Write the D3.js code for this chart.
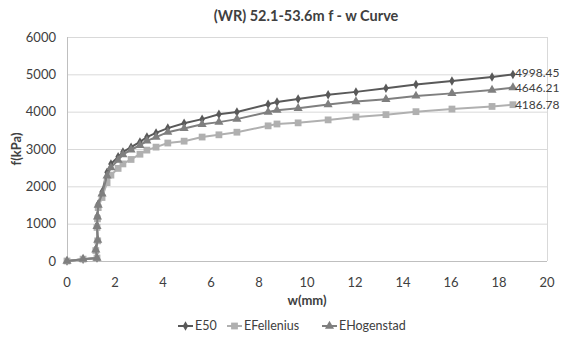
<!DOCTYPE html>
<html>
<head>
<meta charset="utf-8">
<script src="https://cdn.jsdelivr.net/npm/d3@7"></script>
<style>
  body { margin: 0; background: #fff; }
  text { font-family: Lato, "Open Sans", sans-serif; }
</style>
</head>
<body>
<svg id="chart"></svg>
<script>
var width = 563, height = 341;

// displacement w (mm), shared by the three series
var wValues = [0, 0.67, 1.25, 1.2, 1.28, 1.25, 1.27, 1.3, 1.46, 1.67, 1.83, 2.13, 2.33, 2.67, 3.04, 3.33,
  3.71, 4.2, 4.88, 5.63, 6.33, 7.08, 8.38, 8.75, 9.63, 10.88, 12.04, 13.29, 14.54, 16.04, 17.71, 18.58];

var e50 = [0, 50, 80, 320, 560, 960, 1210, 1530, 1850, 2380, 2600, 2790, 2920, 3050, 3190, 3320,
  3430, 3560, 3690, 3800, 3930, 3990, 4200, 4260, 4340, 4450, 4530, 4630, 4730, 4820, 4930, 4998.45];
var eFellenius = [0, 50, 80, 280, 540, 900, 1130, 1430, 1700, 2100, 2300, 2480, 2600, 2720, 2860, 2970,
  3050, 3160, 3210, 3320, 3380, 3450, 3620, 3670, 3700, 3780, 3860, 3920, 4000, 4070, 4140, 4186.78];
var eHogenstad = [0, 50, 80, 300, 560, 930, 1180, 1500, 1800, 2280, 2500, 2700, 2850, 2980, 3100, 3220,
  3320, 3450, 3550, 3660, 3720, 3800, 3990, 4040, 4090, 4190, 4270, 4330, 4420, 4490, 4580, 4646.21];

var seriesNames = ["E50", "EFellenius", "EHogenstad"];
var seriesColors = ["#595959", "#b0b0b0", "#7f7f7f"];
var seriesShapes = [d3.symbolDiamond, d3.symbolSquare, d3.symbolTriangle];
var seriesSizes = [26, 46, 36];

var xTicks = [0, 2, 4, 6, 8, 10, 12, 14, 16, 18, 20];
var yTicks = [0, 1000, 2000, 3000, 4000, 5000, 6000];

var series = [e50, eFellenius, eHogenstad].map(function(vals, i) {
  return {
    name: seriesNames[i],
    color: seriesColors[i],
    shape: seriesShapes[i],
    size: seriesSizes[i],
    points: vals.map(function(f, j) { return [wValues[j], f]; })
  };
});

var margin = {top: 37, right: 16, bottom: 80, left: 67};

var svg = d3.select('#chart')
  .attr('width', width)
  .attr('height', height);

var x = d3.scaleLinear()
  .domain([0, 20])
  .range([margin.left, width - margin.right]);

var y = d3.scaleLinear()
  .domain([0, 6000])
  .range([height - margin.bottom, margin.top]);

// gridlines
svg.append('g')
  .selectAll('line')
  .data(yTicks)
  .enter().append('line')
  .attr('x1', x(0)).attr('x2', x(20))
  .attr('y1', function(d) { return y(d) + 0.5; })
  .attr('y2', function(d) { return y(d) + 0.5; })
  .attr('stroke', function(d) { return d == 0 ? '#bfbfbf' : '#d9d9d9'; })
  .attr('stroke-width', 1);

// plot border left/right
svg.append('line')
  .attr('x1', x(0) + 0.5).attr('x2', x(0) + 0.5)
  .attr('y1', y(6000)).attr('y2', y(0))
  .attr('stroke', '#bfbfbf');
svg.append('line')
  .attr('x1', x(20) + 0.5).attr('x2', x(20) + 0.5)
  .attr('y1', y(6000)).attr('y2', y(0))
  .attr('stroke', '#d9d9d9');

// tick labels
svg.append('g')
  .selectAll('text')
  .data(yTicks)
  .enter().append('text')
  .attr('x', margin.left - 11)
  .attr('y', function(d) { return y(d); })
  .attr('dy', '0.35em')
  .attr('text-anchor', 'end')
  .attr('font-size', 13)
  .attr('fill', '#404040')
  .text(function(d) { return d; });

svg.append('g')
  .selectAll('text')
  .data(xTicks)
  .enter().append('text')
  .attr('x', function(d) { return x(d); })
  .attr('y', y(0) + 21)
  .attr('dy', '0.35em')
  .attr('text-anchor', 'middle')
  .attr('font-size', 13)
  .attr('fill', '#404040')
  .text(function(d) { return d; });

// titles
svg.append('text')
  .attr('x', 306).attr('y', 16)
  .attr('dy', '0.35em')
  .attr('text-anchor', 'middle')
  .attr('font-size', 14.5)
  .attr('font-weight', 'bold')
  .attr('fill', '#404040')
  .text('(WR) 52.1-53.6m f - w Curve');

svg.append('text')
  .attr('x', 307).attr('y', 300)
  .attr('dy', '0.35em')
  .attr('text-anchor', 'middle')
  .attr('font-size', 13)
  .attr('font-weight', 'bold')
  .attr('fill', '#404040')
  .text('w(mm)');

svg.append('text')
  .attr('transform', 'translate(16,149) rotate(-90)')
  .attr('dy', '0.35em')
  .attr('text-anchor', 'middle')
  .attr('font-size', 13)
  .attr('font-weight', 'bold')
  .attr('fill', '#404040')
  .text('f(kPa)');

var line = d3.line()
  .x(function(d) { return x(d[0]); })
  .y(function(d) { return y(d[1]); });

var groups = svg.selectAll('.series')
  .data(series)
  .enter().append('g')
  .attr('class', 'series');

groups.append('path')
  .attr('d', function(d) { return line(d.points); })
  .attr('fill', 'none')
  .attr('stroke', function(d) { return d.color; })
  .attr('stroke-width', 2);

groups.each(function(s) {
  d3.select(this).selectAll('path.mark')
    .data(s.points)
    .enter().append('path')
    .attr('class', 'mark')
    .attr('transform', function(d) { return 'translate(' + x(d[0]) + ',' + y(d[1]) + ')'; })
    .attr('d', d3.symbol().type(s.shape).size(s.size))
    .attr('fill', s.color);
});

// end value labels (top one nudged up a little so it clears the next)
var labelShift = [-1.5, 0.5, 0];
groups.append('text')
  .attr('x', function(d) { var p = d.points[d.points.length - 1]; return x(p[0]) + 2; })
  .attr('y', function(d, i) { var p = d.points[d.points.length - 1]; return y(p[1]) + labelShift[i]; })
  .attr('dy', '0.35em')
  .attr('font-size', 12)
  .attr('fill', '#404040')
  .text(function(d) { return d3.format('.2f')(d.points[d.points.length - 1][1]); });

// legend
var legendX = [178, 227, 322];
var legend = svg.selectAll('.legend')
  .data(series)
  .enter().append('g')
  .attr('class', 'legend')
  .attr('transform', function(d, i) { return 'translate(' + legendX[i] + ',326)'; });

legend.append('line')
  .attr('x1', 0).attr('x2', 15)
  .attr('stroke', function(d) { return d.color; })
  .attr('stroke-width', 2);

legend.append('path')
  .attr('transform', 'translate(7.5,0)')
  .attr('d', function(d) { return d3.symbol().type(d.shape).size(d.size)(); })
  .attr('fill', function(d) { return d.color; });

legend.append('text')
  .attr('x', 17)
  .attr('dy', '0.35em')
  .attr('font-size', 12.5)
  .attr('fill', '#404040')
  .text(function(d) { return d.name; });
</script>
</body>
</html>
